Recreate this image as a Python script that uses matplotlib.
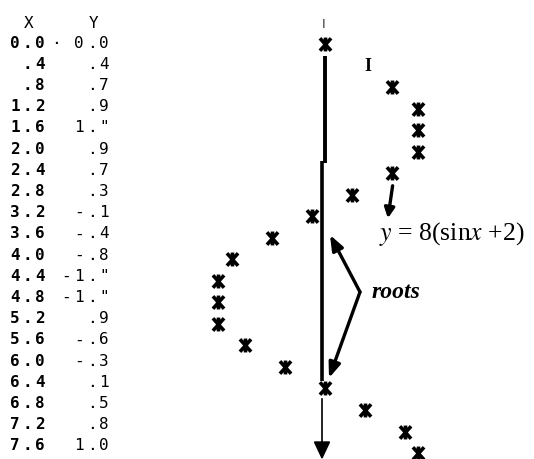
import matplotlib
matplotlib.use("Agg")
import matplotlib.pyplot as plt
from matplotlib.patches import Polygon, FancyArrowPatch
from matplotlib.path import Path

# Printed table: X values and the rounded sin(X) values as typed on the listing
x_labels = ["0.0", ".4", ".8", "1.2", "1.6", "2.0", "2.4", "2.8", "3.2", "3.6",
            "4.0", "4.4", "4.8", "5.2", "5.6", "6.0", "6.4", "6.8", "7.2", "7.6"]
y_labels = ["0.0", ".4", ".7", ".9", '1."', ".9", ".7", ".3", "-.1", "-.4",
            "-.8", '-1."', '-1."', ".9", "-.6", "-.3", ".1", ".5", ".8", "1.0"]
x_values = [0.0, 0.4, 0.8, 1.2, 1.6, 2.0, 2.4, 2.8, 3.2, 3.6,
            4.0, 4.4, 4.8, 5.2, 5.6, 6.0, 6.4, 6.8, 7.2, 7.6]
# Printer column of each plotted symbol, counted from the axis column
print_cols = [0, 3, 5, 7, 7, 7, 5, 2, -1, -4,
              -7, -8, -8, -8, -6, -3, 0, 3, 6, 7]
symbols = ["*", "I", "*", "*", "*", "*", "*", "*", "*", "*",
           "*", "*", "*", "*", "*", "*", "*", "*", "*", "*"]

W, H = 534, 460
fig = plt.figure(figsize=(W / 100, H / 100), dpi=100)
ax = fig.add_axes([0, 0, 1, 1])
ax.set_axis_off()

# one printer column = 13.33 px, one row (0.4 in X) = 21.53 px
COL_PX = 13.33
ROW_PX = 21.53 / 0.4
AXIS_PX, TOP_PX = 325.0, 45.0
ax.set_xlim(-AXIS_PX / COL_PX, (W - AXIS_PX) / COL_PX)
ax.set_ylim((H - TOP_PX) / ROW_PX, -TOP_PX / ROW_PX)


def col(px):
    return (px - AXIS_PX) / COL_PX


def row(py):
    return (py - TOP_PX) / ROW_PX


mono = dict(family="DejaVu Sans Mono", fontsize=11.5, color="black",
            ha="center", va="center")
pitch = 12.5 / COL_PX
# the listing's line feed is a little tighter than the plot rows
table_scale = 0.985


def typed(text, last_col, y, **kw):
    n = len(text)
    for i, ch in enumerate(text):
        if ch == " ":
            continue
        ax.text(last_col - pitch * (n - 1 - i), y, ch, **{**mono, **kw})


# table header and rows
typed("X", col(29), -0.4)
typed("Y", col(94), -0.4)
for xv, xl, yl in zip(x_values, x_labels, y_labels):
    ty = row(43) + xv * table_scale
    typed(xl, col(40), ty, fontweight="bold")
    typed(yl, col(104), ty)
# stray period struck after the first X entry
ax.text(col(56), row(44), "\u00b7", **mono)

# overstruck printer asterisk: a bar plus a cross
star = Path([(0, -1), (0, 1), (-0.8, -0.9), (0.8, 0.9), (-0.8, 0.9), (0.8, -0.9)],
            [Path.MOVETO, Path.LINETO, Path.MOVETO, Path.LINETO,
             Path.MOVETO, Path.LINETO])

for xv, c, s in zip(x_values, print_cols, symbols):
    if s == "*":
        ax.plot(c, xv, marker=star, markersize=10, mew=2.6,
                color="black", linestyle="none")
    else:
        ax.text(c + 0.25, xv, "I", family="Liberation Serif", fontweight="bold",
                fontsize=13, ha="center", va="center")

# vertical axis: tick, heavy rule, thin continuation with arrowhead
ax.text(col(324), -0.38, "I", family="DejaVu Sans", fontsize=9,
        color="#333333", ha="center", va="center")
ax.plot([col(324.5), col(324.5)], [row(57), row(164)], color="black", lw=2.8,
        solid_capstyle="butt")
ax.plot([col(322), col(322)], [row(162), row(382)], color="black", lw=2.6,
        solid_capstyle="butt")
ax.plot([col(322), col(322)], [row(400), row(445)], color="black", lw=1.2)
ax.add_patch(Polygon([[col(314.5), row(443)], [col(329.5), row(443)],
                      [col(322), row(459)]], closed=True, color="black"))

# annotations
ann = dict(family="Liberation Serif", color="black")
ax.add_patch(FancyArrowPatch((col(393), row(184)), (col(387.5), row(222)),
                             arrowstyle="-|>,head_length=6,head_width=3",
                             lw=2.4, color="black", mutation_scale=1))
ax.text(col(379), row(234), r"$y$ = 8(sin$x$ +2)", fontsize=18.5,
        ha="left", va="center", math_fontfamily="stix", **ann)
ax.text(col(372), row(293), "roots", fontsize=17, style="italic",
        fontweight="bold", ha="left", va="center", **ann)
for tip in [(330, 236), (329, 379)]:
    ax.add_patch(FancyArrowPatch((col(360), row(293)), (col(tip[0]), row(tip[1])),
                                 arrowstyle="-|>,head_length=9,head_width=3.5",
                                 lw=2.4, color="black", mutation_scale=1,
                                 shrinkA=0, shrinkB=0))

fig.savefig("out.png", dpi=100, facecolor="white")
